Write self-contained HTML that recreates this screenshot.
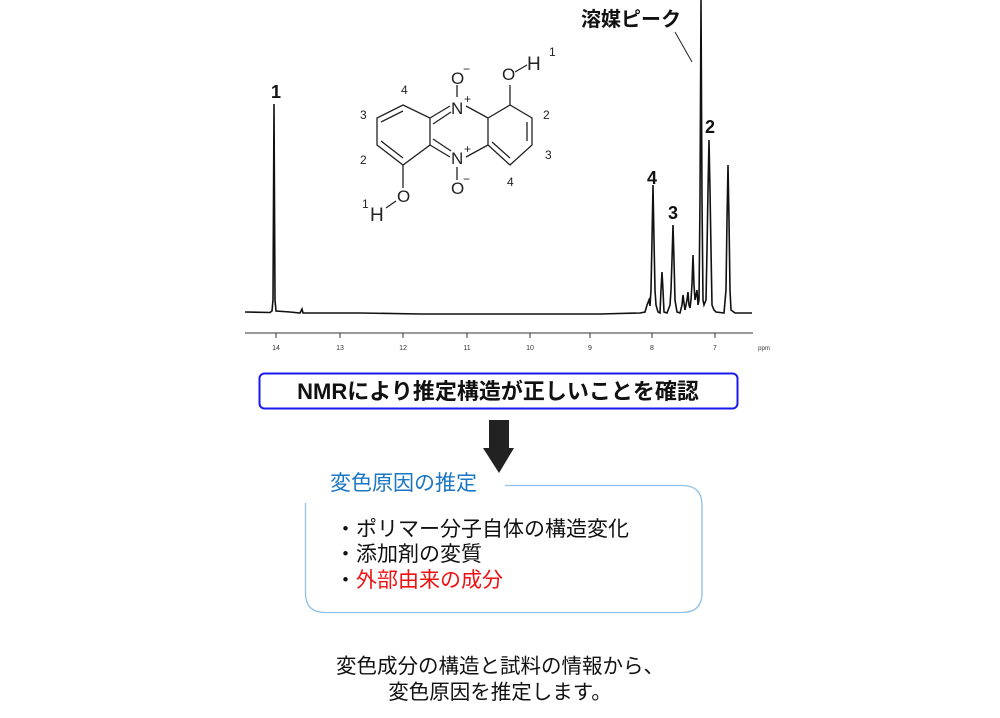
<!DOCTYPE html>
<html><head><meta charset="utf-8"><style>
html,body{margin:0;padding:0;background:#fff;width:1000px;height:718px;overflow:hidden}
svg{display:block}
text{font-family:"Liberation Sans","Noto Sans CJK JP",sans-serif}
</style></head><body>
<svg width="1000" height="718" viewBox="0 0 1000 718" xmlns="http://www.w3.org/2000/svg">
<path d="M245 312 L270 312.5 L272 311 L273 300 L274 104 L275 300 L276 311 L290 312 L300 313 L302 309 L303 313 L360 313 L420 314 L480 314 L540 314 L600 314 L640 313 L645 312 L647 305 L649 300 L650 306 L651 290 L652 240 L653 185 L654 240 L655 290 L656 305 L658 312 L660 313 L661 290 L662 272 L663 290 L664 312 L667 313 L670 305 L671 290 L672 260 L673 225 L674 260 L675 300 L677 312 L680 313 L682 305 L683 295 L684 303 L685 310 L687 300 L688 292 L689 305 L690 308 L691 300 L692 284 L693 255 L694 285 L695 300 L696 295 L697 290 L698 305 L699 300 L700 200 L701 0 L702 200 L703 300 L704 305 L706 300 L707 250 L708 190 L709 140 L710 190 L711 250 L712 305 L714 310 L716 312 L724 313 L726 290 L727 220 L728 165 L729 220 L730 290 L731 310 L735 313 L752 313" fill="none" stroke="#111" stroke-width="1.6"/>
<line x1="245" y1="333" x2="753" y2="333" stroke="#333" stroke-width="1"/>
<g stroke="#333" stroke-width="1">
<line x1="276" y1="333" x2="276" y2="338"/><line x1="340" y1="333" x2="340" y2="338"/><line x1="403" y1="333" x2="403" y2="338"/><line x1="467" y1="333" x2="467" y2="338"/><line x1="530" y1="333" x2="530" y2="338"/><line x1="590" y1="333" x2="590" y2="338"/><line x1="652" y1="333" x2="652" y2="338"/><line x1="715" y1="333" x2="715" y2="338"/>
</g>
<g font-size="7" fill="#333" text-anchor="middle">
<text x="276" y="350">14</text><text x="340" y="350">13</text><text x="403" y="350">12</text><text x="467" y="350">11</text><text x="530" y="350">10</text><text x="590" y="350">9</text><text x="652" y="350">8</text><text x="715" y="350">7</text><text x="764" y="350" font-size="6">ppm</text>
</g>
<g font-size="18" font-weight="bold" fill="#111" text-anchor="middle">
<text x="276" y="98">1</text><text x="710" y="133">2</text><text x="673" y="219">3</text><text x="652" y="184">4</text>
</g>
<text x="581" y="26" font-size="20" font-weight="bold" fill="#111">溶媒ピーク</text>
<line x1="675" y1="32" x2="692" y2="62" stroke="#222" stroke-width="1"/>
<!-- molecule -->
<g stroke="#222" stroke-width="1.3" fill="none">
<path d="M403 105 L430 118 L430 145 L403 165 L377 145 L377 118 Z"/>
<path d="M403 111 L381 122 M381 141 L403 158"/>
<path d="M488 118 L510 105 L532 118 L532 145 L510 165 L488 145 Z"/>
<path d="M527 122 L527 141 M492 142 L510 158"/>
<path d="M430 118 L450 106 M433 124 L451 112 M466 106 L488 118"/>
<path d="M430 145 L450 157 M433 139 L451 151 M466 157 L488 145"/>
<path d="M457 97 L457 85 M457 167 L457 180"/>
<path d="M510 105 L510 85 M403 165 L403 188"/>
<path d="M515 72 L527 65 M396 201 L386 208"/>
</g>
<g font-size="17" fill="#222">
<text x="451" y="114">N</text><text x="464" y="103" font-size="12">+</text>
<text x="451" y="164">N</text><text x="464" y="153" font-size="12">+</text>
<text x="451" y="84">O</text><text x="463" y="73" font-size="12">−</text>
<text x="451" y="194">O</text><text x="463" y="183" font-size="12">−</text>
<text x="502" y="80">O</text><text x="527" y="70" font-size="19">H</text>
<text x="397" y="202">O</text><text x="370" y="221" font-size="19">H</text>
</g>
<g font-size="12" fill="#222">
<text x="401" y="94">4</text><text x="360" y="119">3</text><text x="360" y="164">2</text><text x="362" y="208">1</text>
<text x="549" y="56">1</text><text x="543" y="119">2</text><text x="545" y="159">3</text><text x="507" y="186">4</text>
</g>
<rect x="259.5" y="373.5" width="478" height="35" rx="5" fill="#fff" stroke="#1a1aee" stroke-width="2"/>
<text x="498" y="399" font-size="22" font-weight="bold" fill="#111" text-anchor="middle">NMRにより推定構造が正しいことを確認</text>
<path d="M489 420 L509 420 L509 448 L514 448 L499 473 L483 448 L489 448 Z" fill="#222"/>
<path d="M505 485.5 L682 485.5 Q702 485.5 702 505 L702 593 Q702 612.5 682 612.5 L325 612.5 Q305.5 612.5 305.5 593 L305.5 503" fill="none" stroke="#8ec0e8" stroke-width="1.3"/>
<text x="330" y="490" font-size="21" fill="#1b76c4">変色原因の推定</text>
<g font-size="21" fill="#111">
<text x="335" y="536">・ポリマー分子自体の構造変化</text>
<text x="335" y="561">・添加剤の変質</text>
<text x="335" y="587">・<tspan fill="#ee1111">外部由来の成分</tspan></text>
</g>
<g font-size="20.5" fill="#111" text-anchor="middle">
<text x="500" y="673">変色成分の構造と試料の情報から、</text>
<text x="500" y="699">変色原因を推定します。</text>
</g>
</svg>
</body></html>
